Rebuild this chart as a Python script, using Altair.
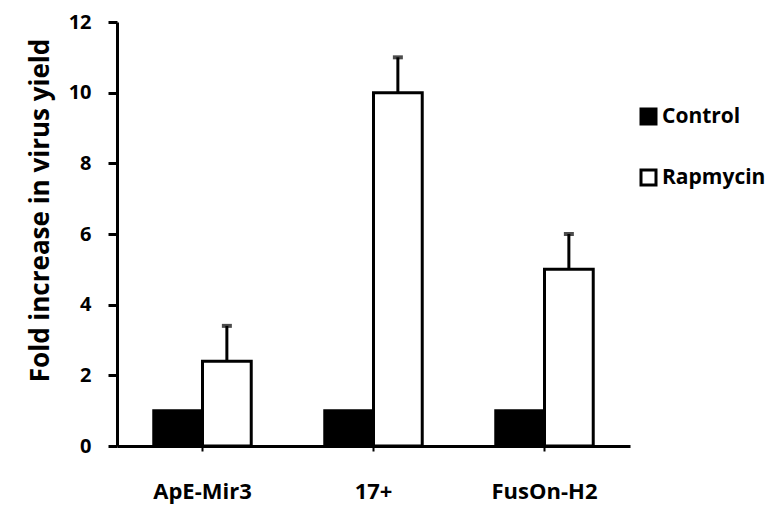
import altair as alt
import pandas as pd

groups = ["ApE-Mir3", "17+", "FusOn-H2"]
treatments = ["Control", "Rapmycin"]
control_vals = [1.0, 1.0, 1.0]
rapa_vals = [2.4, 10.0, 5.0]
rapa_err = [1.0, 1.0, 1.0]

rows = []
for g, c in zip(groups, control_vals):
    rows.append({"group": g, "treatment": "Control", "value": c, "upper": None})
for g, r, e in zip(groups, rapa_vals, rapa_err):
    rows.append({"group": g, "treatment": "Rapmycin", "value": r, "upper": r + e})
df = pd.DataFrame(rows)
err_df = df[df["treatment"] == "Rapmycin"]

FONT = "Open Sans"

x = alt.X("group:N", sort=groups, title=None,
          scale=alt.Scale(paddingInner=0.43, paddingOuter=0.215),
          axis=alt.Axis(labelAngle=0, labelFont=FONT, labelFontWeight="bold",
                        labelFontSize=22, labelColor="black", labelPadding=30,
                        domainColor="black", domainWidth=3, tickColor="black",
                        tickWidth=2, tickSize=5))
xo = alt.XOffset("treatment:N", sort=treatments,
                 scale=alt.Scale(paddingInner=0, paddingOuter=0))
y_axis = alt.Axis(values=[0, 2, 4, 6, 8, 10, 12], grid=False, labelFont=FONT,
                  labelFontWeight="bold", labelFontSize=20, labelColor="black",
                  labelPadding=17, domainColor="black", domainWidth=3,
                  tickColor="black", tickWidth=3, tickSize=9,
                  title="Fold increase in virus yield", titleFont=FONT,
                  titleFontWeight="bold", titleFontSize=26, titleColor="black",
                  titleX=-77, titleY=188, titleAlign="center", titleBaseline="middle")

bars = alt.Chart(df).mark_bar(stroke="black", strokeWidth=3).encode(
    x=x, xOffset=xo,
    y=alt.Y("value:Q", scale=alt.Scale(domain=[0, 12]), axis=y_axis),
    fill=alt.Fill("treatment:N", sort=treatments,
                  scale=alt.Scale(domain=treatments, range=["black", "white"]),
                  legend=alt.Legend(title=None, orient="none", legendX=521, legendY=84,
                                    symbolType="square", symbolSize=225,
                                    symbolStrokeColor="black", symbolStrokeWidth=3,
                                    labelFont=FONT, labelFontWeight="bold",
                                    labelFontSize=21, labelColor="black",
                                    rowPadding=34, labelOffset=3)),
)

err = alt.Chart(err_df).mark_rule(color="black", strokeWidth=3).encode(
    x=alt.X("group:N", sort=groups), xOffset=alt.XOffset("treatment:N", sort=treatments),
    y="value:Q", y2="upper:Q",
)
cap = alt.Chart(err_df).mark_tick(color="black", thickness=4, size=10, orient="horizontal").encode(
    x=alt.X("group:N", sort=groups), xOffset=alt.XOffset("treatment:N", sort=treatments),
    y="upper:Q",
)

chart = alt.layer(bars, err, cap).properties(
    width=513, height=424,
    autosize=alt.AutoSizeParams(type="none"),
    padding={"left": 109, "top": 14, "right": 137, "bottom": 60},
).configure(background="white").configure_view(stroke=None)

chart.save("out.html", embed_options={"renderer": "svg", "actions": False})
